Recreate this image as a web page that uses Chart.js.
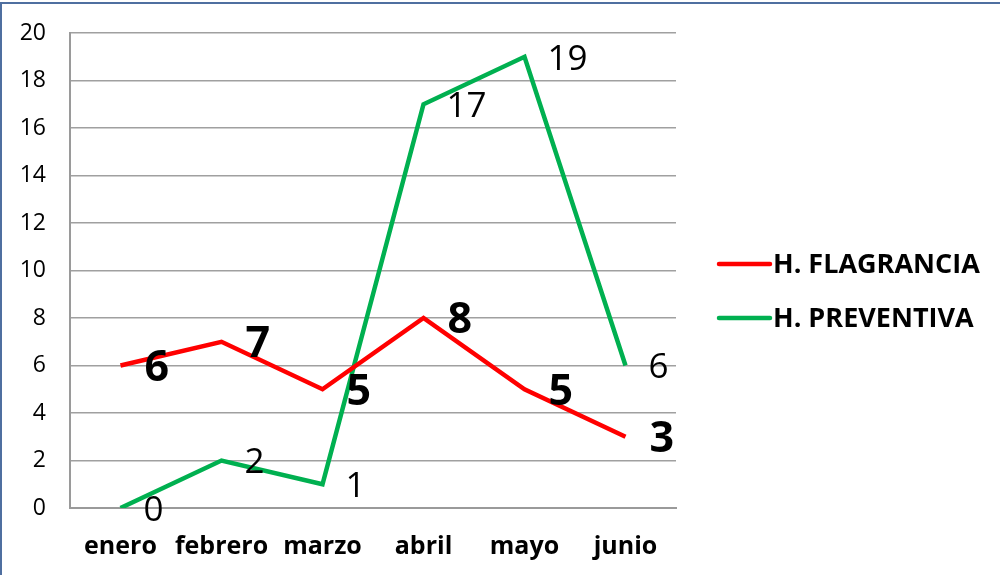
<!DOCTYPE html>
<html>
<head>
<meta charset="utf-8">
<script src="https://cdn.jsdelivr.net/npm/chart.js@4"></script>
<style>
  html, body { margin: 0; padding: 0; background: #fff; }
  #wrap { width: 1000px; height: 575px; position: relative; }
</style>
</head>
<body>
<div id="wrap"><canvas id="chart"></canvas></div>
<script>
const months = [ 'enero', 'febrero', 'marzo', 'abril', 'mayo', 'junio' ];
const flagrancia = [ 6, 7, 5, 8, 5, 3 ];
const preventiva = [ 0, 2, 1, 17, 19, 6 ];
const yTicks = [ 0, 2, 4, 6, 8, 10, 12, 14, 16, 18, 20 ];

const FONT = '"Open Sans", "Liberation Sans", sans-serif';
const RED = '#FF0000';
const GREEN = '#00B050';

// value labels + legend + frame, drawn after the datasets
const extrasPlugin = {
    id: 'extras',
    afterDatasetsDraw ( chart ) {
        const ctx = chart.ctx;
        ctx.save();
        ctx.textAlign = 'left';
        ctx.textBaseline = 'middle';
        ctx.fillStyle = '#000';
        chart.data.datasets.forEach( ( ds, i ) => {
            const meta = chart.getDatasetMeta( i );
            ctx.font = ds.labelFont;
            meta.data.forEach( ( pt, j ) => {
                ctx.fillText( String( ds.data[ j ] ), pt.x + ds.labelDx, pt.y + ds.labelDy );
            } );
        } );

        // legend
        const legendItems = [
            { text: 'H. FLAGRANCIA', color: RED, y: 264 },
            { text: 'H. PREVENTIVA', color: GREEN, y: 318 }
        ];
        ctx.lineCap = 'round';
        ctx.lineWidth = 4.5;
        ctx.font = 'bold 27px ' + FONT;
        legendItems.forEach( it => {
            ctx.strokeStyle = it.color;
            ctx.beginPath();
            ctx.moveTo( 719, it.y );
            ctx.lineTo( 770, it.y );
            ctx.stroke();
            ctx.fillText( it.text, 773, it.y + 1 );
        } );

        // frame (left + top only visible)
        ctx.lineCap = 'butt';
        ctx.strokeStyle = '#4F6FA0';
        ctx.lineWidth = 2;
        ctx.beginPath();
        ctx.moveTo( 1, 575 );
        ctx.lineTo( 1, 3 );
        ctx.lineTo( 1000, 3 );
        ctx.stroke();
        ctx.restore();
    }
};

new Chart( document.getElementById( 'chart' ), {
    type: 'line',
    data: {
        labels: months,
        datasets: [
            {
                label: 'H. FLAGRANCIA',
                data: flagrancia,
                borderColor: RED,
                backgroundColor: RED,
                borderWidth: 4.5,
                pointRadius: 0,
                tension: 0,
                labelFont: 'bold 43px ' + FONT,
                labelDx: 24,
                labelDy: 3
            },
            {
                label: 'H. PREVENTIVA',
                data: preventiva,
                borderColor: GREEN,
                backgroundColor: GREEN,
                borderWidth: 4.5,
                pointRadius: 0,
                tension: 0,
                labelFont: '35px ' + FONT,
                labelDx: 23,
                labelDy: 3
            }
        ]
    },
    options: {
        responsive: true,
        maintainAspectRatio: false,
        animation: false,
        layout: { padding: { top: 33, right: 324, bottom: 0, left: 0 } },
        plugins: {
            legend: { display: false },
            tooltip: { enabled: false }
        },
        scales: {
            x: {
                offset: true,
                grid: { display: false, drawTicks: false },
                border: { color: '#9a9a9a', width: 2 },
                ticks: {
                    color: '#000',
                    padding: 24,
                    maxRotation: 0,
                    font: { family: FONT, size: 25, weight: 'bold' }
                },
                afterFit ( scale ) { scale.height = 67; }
            },
            y: {
                min: 0,
                max: 20,
                afterBuildTicks ( scale ) { scale.ticks = yTicks.map( v => ( { value: v } ) ); },
                grid: { color: '#a0a0a0', lineWidth: 1.5, drawTicks: false },
                border: { color: '#9a9a9a', width: 2 },
                ticks: {
                    color: '#000',
                    padding: 24,
                    font: { family: FONT, size: 23 }
                },
                afterFit ( scale ) {
                    scale.width = 70;
                    scale.paddingTop = 0;
                    scale.paddingBottom = 0;
                }
            }
        }
    },
    plugins: [ extrasPlugin ]
} );
</script>
</body>
</html>
